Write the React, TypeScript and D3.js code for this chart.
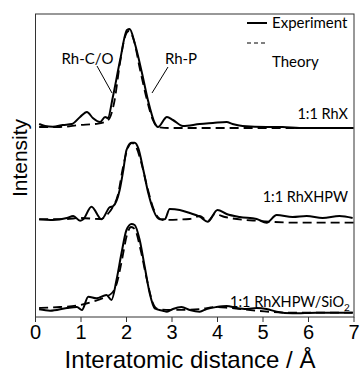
import React from "react";
import * as d3 from "d3";

// x: interatomic distance (Å), y: intensity (a.u., stacked offsets)
const xTicks = [0, 1, 2, 3, 4, 5, 6, 7];
const seriesLabels = ["1:1 RhX", "1:1 RhXHPW", "1:1 RhXHPW/SiO"];

const rhxExp: [number, number][] = [
  [0.08, 193], [0.21, 191], [0.38, 190.3], [0.6, 192], [0.8, 193], [0.98, 200], [1.13, 205],
  [1.26, 199], [1.42, 195], [1.53, 200], [1.59, 199], [1.7, 220], [1.86, 257], [2.01, 287],
  [2.07, 288], [2.18, 274], [2.34, 244], [2.47, 217], [2.62, 194], [2.69, 190], [2.89, 200],
  [3.02, 197], [3.24, 191], [3.61, 193], [3.9, 194], [4.2, 195], [4.33, 193], [4.55, 191],
  [5.08, 190], [5.43, 190], [5.8, 189], [6.99, 189],
];
const rhxTheo: [number, number][] = [
  [0.08, 190], [0.54, 190], [0.98, 192], [1.31, 193], [1.53, 195], [1.63, 199], [1.74, 217],
  [1.85, 252], [1.96, 279], [2.05, 286], [2.16, 277], [2.29, 249], [2.45, 217], [2.58, 197],
  [2.69, 190], [2.95, 189], [4.0, 189], [5.5, 189], [6.99, 189],
];
const hpwExp: [number, number][] = [
  [0.08, 97.7], [0.38, 97], [0.69, 99], [0.83, 101], [0.98, 96.3], [1.05, 97.7], [1.23, 110.3],
  [1.45, 97.7], [1.63, 109.7], [1.71, 111], [1.85, 127], [1.93, 147], [2.0, 167], [2.11, 174.3],
  [2.18, 174.3], [2.26, 168.7], [2.37, 147], [2.48, 123.7], [2.59, 107], [2.73, 97.7],
  [2.84, 97.7], [2.95, 108], [3.17, 107], [3.39, 104], [3.61, 100.3], [3.79, 95.3], [4.0, 107],
  [4.2, 103], [4.49, 100], [4.86, 98], [5.08, 94.3], [5.3, 102], [5.65, 100], [5.96, 101],
  [6.31, 99], [6.68, 101], [6.97, 99],
];
const hpwTheo: [number, number][] = [
  [0.08, 97.7], [0.69, 98], [0.98, 99], [1.42, 98], [1.59, 103], [1.7, 110], [1.81, 122],
  [1.92, 149], [2.03, 169], [2.12, 174], [2.2, 171], [2.32, 155], [2.45, 131], [2.58, 110],
  [2.69, 100], [2.8, 97], [3.39, 98], [3.61, 101], [3.79, 96], [3.94, 103], [4.16, 100],
  [4.93, 96], [5.8, 94.3], [6.99, 94.3],
];
const sioExp: [number, number][] = [
  [0.08, 7.7], [0.32, 6.3], [0.69, 9], [0.91, 10], [1.02, 7], [1.16, 20.3], [1.34, 18.7],
  [1.56, 22], [1.67, 17], [1.78, 37], [1.89, 63.7], [2.0, 87], [2.11, 93], [2.18, 92],
  [2.29, 77], [2.4, 50.3], [2.51, 23.7], [2.62, 8.7], [2.8, 6.3], [2.89, 5.3], [3.02, 8],
  [3.21, 10], [3.39, 7], [3.61, 5.3], [3.76, 8], [3.98, 10], [4.2, 11], [4.42, 9], [4.64, 8],
  [4.86, 9], [5.08, 8], [5.3, 5.3], [5.65, 3.7], [6.18, 4.3], [6.53, 4.3], [6.97, 4.3],
];
const sioTheo: [number, number][] = [
  [0.08, 9], [0.54, 10], [0.98, 12], [1.31, 16], [1.53, 20], [1.68, 24], [1.79, 34],
  [1.9, 57], [2.01, 82], [2.1, 90], [2.18, 88], [2.31, 67], [2.45, 37], [2.58, 14], [2.69, 8],
  [2.95, 7], [3.61, 8], [3.98, 10], [4.27, 9], [4.93, 6], [5.58, 4.3], [6.99, 4.3],
];

const experiments = [rhxExp, hpwExp, sioExp];
const theories = [rhxTheo, hpwTheo, sioTheo];

export default function App() {
  const W = 360, H = 376;
  const left = 35.5, right = 354, top = 14, bottom = 317;
  const x = d3.scaleLinear().domain([0, 7]).range([left, right]);
  const y = d3.scaleLinear().domain([0, 303]).range([bottom, top]);
  const line = d3
    .line<[number, number]>()
    .x((d) => x(d[0]))
    .y((d) => y(d[1]))
    .curve(d3.curveMonotoneX);

  const labelFont = "Lato, 'Open Sans', sans-serif";
  const axisFont = "'Liberation Sans', Arial, sans-serif";
  const labelY = [119, 202, 307];

  return (
    <svg width={W} height={H} style={{ position: "absolute", left: 0, top: 0, background: "#fff" }}>
      <rect x={0} y={0} width={W} height={H} fill="#fff" />
      {/* frame */}
      <rect x={left} y={top} width={right - left} height={bottom - top} fill="none" stroke="#333" strokeWidth={1} />
      {/* x ticks */}
      {xTicks.map((t) => (
        <g key={t}>
          <line x1={x(t)} x2={x(t)} y1={bottom} y2={bottom + 5} stroke="#333" strokeWidth={1} />
          <text x={x(t)} y={339} textAnchor="middle" fontFamily={axisFont} fontSize={20} fill="#000">
            {t}
          </text>
        </g>
      ))}
      <text x={190} y={368} textAnchor="middle" fontFamily={axisFont} fontSize={24} fill="#000">
        Interatomic distance / Å
      </text>
      <text
        transform={`translate(27,${158}) rotate(-90)`}
        textAnchor="middle"
        fontFamily={axisFont}
        fontSize={21}
        fill="#000"
      >
        Intensity
      </text>
      {/* curves */}
      {theories.map((s, i) => (
        <path key={"t" + i} d={line(s) || ""} fill="none" stroke="#000" strokeWidth={1.8} strokeDasharray="9,5" />
      ))}
      {experiments.map((s, i) => (
        <path key={"e" + i} d={line(s) || ""} fill="none" stroke="#000" strokeWidth={2} />
      ))}
      {/* series labels */}
      {seriesLabels.map((l, i) => (
        <text key={l} x={i === 2 ? 344 : 348} y={labelY[i]} textAnchor="end" fontFamily={labelFont} fontSize={14.5} fill="#000">
          {l}
        </text>
      ))}
      <text x={344} y={311} fontFamily={labelFont} fontSize={10} fill="#000">2</text>
      {/* annotations */}
      <text x={87.5} y={64} textAnchor="middle" fontFamily={labelFont} fontSize={15} fill="#000">Rh-C/O</text>
      <line x1={97} y1={66} x2={112} y2={93} stroke="#000" strokeWidth={1} />
      <text x={181} y={64} textAnchor="middle" fontFamily={labelFont} fontSize={15} fill="#000">Rh-P</text>
      <line x1={168} y1={67} x2={152} y2={93} stroke="#000" strokeWidth={1} />
      {/* legend */}
      <line x1={247} x2={267} y1={23} y2={23} stroke="#000" strokeWidth={2} />
      <text x={272} y={28} fontFamily={labelFont} fontSize={15} fill="#000">Experiment</text>
      <line x1={247} x2={267} y1={43} y2={43} stroke="#000" strokeWidth={1} strokeDasharray="4,3" />
      <text x={272} y={67} fontFamily={labelFont} fontSize={15} fill="#000">Theory</text>
    </svg>
  );
}
